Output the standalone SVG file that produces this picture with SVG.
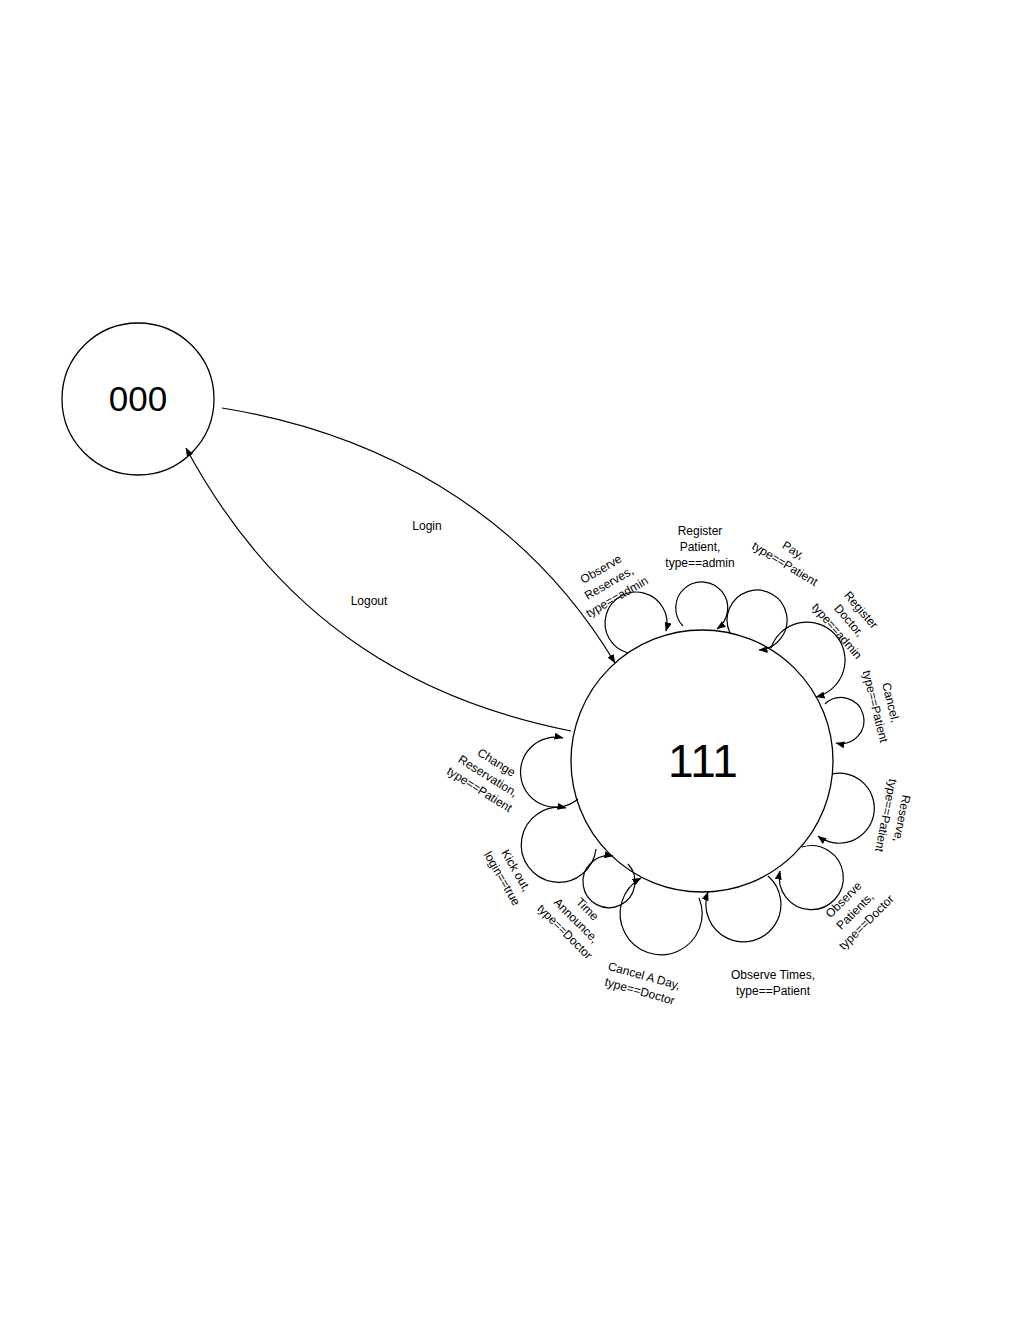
<svg xmlns="http://www.w3.org/2000/svg" width="1030" height="1332" viewBox="0 0 1030 1332">
<style>
.state{fill:#fff;stroke:#000;stroke-width:1.3}
.big{font-family:"Liberation Sans",Arial,sans-serif;fill:#000;text-anchor:middle}
.edge{fill:none;stroke:#000;stroke-width:1.2;marker-end:url(#ah)}
.lbl{font-family:"Liberation Sans",Arial,sans-serif;font-size:12px;fill:#000;text-anchor:middle}
</style>
<defs>
<marker id="ah" markerWidth="9" markerHeight="7" refX="8.5" refY="3.5" orient="auto" markerUnits="userSpaceOnUse">
<path d="M0,0 L9,3.5 L0,7 z" fill="#000"/>
</marker>
</defs>
<rect width="1030" height="1332" fill="#fff"/>
<g id="node-000">
<circle class="state" cx="138" cy="399" r="76"/>
<text class="big" x="138" y="411" font-size="35">000</text>
</g>
<g id="node-111">
<circle class="state" cx="702" cy="761" r="131"/>
<text class="big" x="703" y="777" font-size="46">111</text>
</g>
<g id="connectors">
<path id="login" class="edge" d="M222,408 C370,432 520,505 615,663"/>
<path id="logout" class="edge" d="M571,731 C430,703 285,632 186,448"/>
<path id="loop-observe-reserves" class="edge" d="M628,653 A31,31 0 1 1 666,631"/>
<path id="loop-register-patient" class="edge" d="M683,626 A26,26 0 1 1 717,629"/>
<path id="loop-pay" class="edge" d="M730,633 A30,30 0 1 1 759,650"/>
<path id="loop-register-doctor" class="edge" d="M771,648 A38,38 0 1 1 816,697"/>
<path id="loop-cancel" class="edge" d="M825,704 A23,23 0 1 1 836,743"/>
<path id="loop-reserve" class="edge" d="M832,774 A35,35 0 1 1 818,836"/>
<path id="loop-observe-patients" class="edge" d="M802,847 A32,32 0 1 1 780,871"/>
<path id="loop-observe-times" class="edge" d="M768,876 A37.5,37.5 0 1 1 708,892"/>
<path id="loop-cancel-day" class="edge" d="M699,898 A41,41 0 1 1 641,878"/>
<path id="loop-time-announce" class="edge" d="M628,864 A26,26 0 1 1 613,856"/>
<path id="loop-kick-out" class="edge" d="M596,849 A37.5,37.5 0 1 1 566,808"/>
<path id="loop-change-reservation" class="edge" d="M578,799 A35,35 0 1 1 563,738"/>
</g>
<g id="labels">
<text class="lbl" x="427" y="530">Login</text>
<text class="lbl" x="369" y="605">Logout</text>
<g transform="translate(609,583) rotate(-30)"><text class="lbl" y="-12">Observe</text><text class="lbl" y="4">Reserves,</text><text class="lbl" y="20">type==admin</text></g>
<g transform="translate(700,547)"><text class="lbl" y="-12">Register</text><text class="lbl" y="4">Patient,</text><text class="lbl" y="20">type==admin</text></g>
<g transform="translate(789,557) rotate(31)"><text class="lbl" y="-4">Pay,</text><text class="lbl" y="12">type==Patient</text></g>
<g transform="translate(849,620.5) rotate(49)"><text class="lbl" y="-12">Register</text><text class="lbl" y="4">Doctor,</text><text class="lbl" y="20">type==admin</text></g>
<g transform="translate(883,704.5) rotate(76)"><text class="lbl" y="-4">Cancel,</text><text class="lbl" y="12">type==Patient</text></g>
<g transform="translate(894,817) rotate(101)"><text class="lbl" y="-4">Reserve,</text><text class="lbl" y="12">type==Patient</text></g>
<g transform="translate(855,911) rotate(-45)"><text class="lbl" y="-12">Observe</text><text class="lbl" y="4">Patients,</text><text class="lbl" y="20">type==Doctor</text></g>
<g transform="translate(773,982.5)"><text class="lbl" y="-4">Observe Times,</text><text class="lbl" y="12">type==Patient</text></g>
<g transform="translate(642,983.5) rotate(15.6)"><text class="lbl" y="-4">Cancel A Day,</text><text class="lbl" y="12">type==Doctor</text></g>
<g transform="translate(576,920.5) rotate(45)"><text class="lbl" y="-12">Time</text><text class="lbl" y="4">Announce,</text><text class="lbl" y="20">type==Doctor</text></g>
<g transform="translate(509,874.5) rotate(60)"><text class="lbl" y="-4">Kick out,</text><text class="lbl" y="12">login==true</text></g>
<g transform="translate(488,776) rotate(32)"><text class="lbl" y="-12">Change</text><text class="lbl" y="4">Reservation,</text><text class="lbl" y="20">type==Patient</text></g>
</g>
</svg>
